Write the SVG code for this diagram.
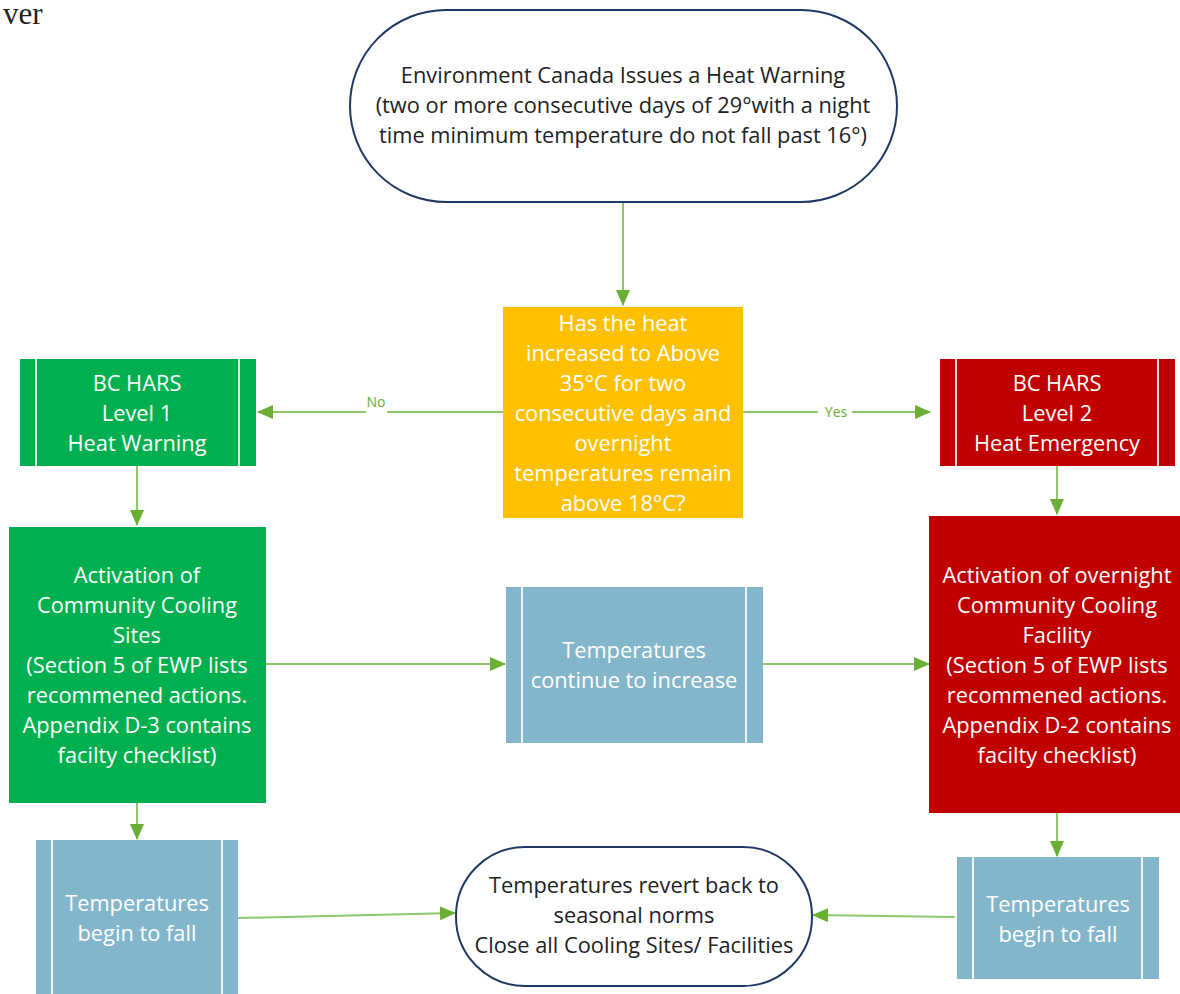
<svg xmlns="http://www.w3.org/2000/svg" width="1180" height="994" viewBox="0 0 1180 994">
<defs>
<marker id="ahb" markerWidth="16" markerHeight="14" refX="15" refY="7" orient="auto" markerUnits="userSpaceOnUse" viewBox="0 0 16 14">
<path d="M0,0 L16,7 L0,14 z" fill="#6AAE34"/>
</marker>
</defs>
<style>
.t{font-family:"Open Sans","Noto Sans","Liberation Sans",sans-serif;font-size:21.8px;text-anchor:middle}
.w{fill:#ffffff}
.k{fill:#222222}
.c{stroke:#8CC96A;stroke-width:2;fill:none}
.div{stroke:#ffffff;stroke-width:2;stroke-opacity:0.85}
.lbl{font-family:"Open Sans","Noto Sans","Liberation Sans",sans-serif;font-size:14px;fill:#6AAE34;text-anchor:middle}
</style>
<rect width="1180" height="994" fill="#ffffff"/>
<text x="3" y="24" font-family="Liberation Serif, serif" font-size="31" fill="#222">ver</text>

<g id="connectors">
<path class="c" d="M623,202 V305" marker-end="url(#ahb)"/>
<path class="c" d="M503,412 H387 M366,412 H258" marker-end="url(#ahb)"/>
<path class="c" d="M743,412 H818 M852,412 H930" marker-end="url(#ahb)"/>
<path class="c" d="M137,466 V525" marker-end="url(#ahb)"/>
<path class="c" d="M1057,466 V514" marker-end="url(#ahb)"/>
<path class="c" d="M266,664 H505" marker-end="url(#ahb)"/>
<path class="c" d="M763,664 H929" marker-end="url(#ahb)"/>
<path class="c" d="M137,803 V839" marker-end="url(#ahb)"/>
<path class="c" d="M1057,813 V856" marker-end="url(#ahb)"/>
<path class="c" d="M238,918 L455,913" marker-end="url(#ahb)"/>
<path class="c" d="M955,917 L813,915" marker-end="url(#ahb)"/>
<path d="M38,841 L54,848 L38,855 z" fill="#6AAE34"/>
<text class="lbl" x="376" y="407">No</text>
<text class="lbl" x="836" y="417">Yes</text>
</g>

<g id="start">
<rect x="350" y="10" width="547" height="192" rx="96" ry="96" fill="#ffffff" stroke="#1F3864" stroke-width="2"/>
<text class="t k" x="623" y="83">Environment Canada Issues a Heat Warning</text>
<text class="t k" x="623" y="113">(two or more consecutive days of 29°with a night</text>
<text class="t k" x="623" y="143">time minimum temperature do not fall past 16°)</text>
</g>

<g id="decision">
<rect x="503" y="307" width="240" height="211" fill="#FFC000"/>
<text class="t w" x="623" y="331">Has the heat</text>
<text class="t w" x="623" y="361">increased to Above</text>
<text class="t w" x="623" y="391">35°C for two</text>
<text class="t w" x="623" y="421">consecutive days and</text>
<text class="t w" x="623" y="451">overnight</text>
<text class="t w" x="623" y="481">temperatures remain</text>
<text class="t w" x="623" y="511">above 18°C?</text>
</g>

<g id="level1">
<rect x="20" y="359" width="236" height="107" fill="#00B050"/>
<line class="div" x1="36" y1="359" x2="36" y2="466"/>
<line class="div" x1="239" y1="359" x2="239" y2="466"/>
<text class="t w" x="137" y="391">BC HARS</text>
<text class="t w" x="137" y="421">Level 1</text>
<text class="t w" x="137" y="451">Heat Warning</text>
</g>

<g id="level2">
<rect x="940" y="359" width="235" height="107" fill="#C00000"/>
<line class="div" x1="956" y1="359" x2="956" y2="466"/>
<line class="div" x1="1158" y1="359" x2="1158" y2="466"/>
<text class="t w" x="1057" y="391">BC HARS</text>
<text class="t w" x="1057" y="421">Level 2</text>
<text class="t w" x="1057" y="451">Heat Emergency</text>
</g>

<g id="cooling-sites">
<rect x="9" y="527" width="257" height="276" fill="#00B050"/>
<text class="t w" x="137" y="583">Activation of</text>
<text class="t w" x="137" y="613">Community Cooling</text>
<text class="t w" x="137" y="643">Sites</text>
<text class="t w" x="137" y="673">(Section 5 of EWP lists</text>
<text class="t w" x="137" y="703">recommened actions.</text>
<text class="t w" x="137" y="733">Appendix D-3 contains</text>
<text class="t w" x="137" y="763">facilty checklist)</text>
</g>

<g id="cooling-facility">
<rect x="929" y="516" width="251" height="297" fill="#C00000"/>
<text class="t w" x="1057" y="583">Activation of overnight</text>
<text class="t w" x="1057" y="613">Community Cooling</text>
<text class="t w" x="1057" y="643">Facility</text>
<text class="t w" x="1057" y="673">(Section 5 of EWP lists</text>
<text class="t w" x="1057" y="703">recommened actions.</text>
<text class="t w" x="1057" y="733">Appendix D-2 contains</text>
<text class="t w" x="1057" y="763">facilty checklist)</text>
</g>

<g id="increase">
<rect x="506" y="587" width="257" height="156" fill="#84B6CB"/>
<line class="div" x1="522" y1="587" x2="522" y2="743"/>
<line class="div" x1="746" y1="587" x2="746" y2="743"/>
<text class="t w" x="634" y="658">Temperatures</text>
<text class="t w" x="634" y="688">continue to  increase</text>
</g>

<g id="fall-left">
<rect x="36" y="840" width="202" height="160" fill="#84B6CB"/>
<line class="div" x1="52" y1="840" x2="52" y2="1000"/>
<line class="div" x1="222" y1="840" x2="222" y2="1000"/>
<text class="t w" x="137" y="911">Temperatures</text>
<text class="t w" x="137" y="941">begin to fall</text>
</g>

<g id="fall-right">
<rect x="957" y="857" width="202" height="122" fill="#84B6CB"/>
<line class="div" x1="973" y1="857" x2="973" y2="979"/>
<line class="div" x1="1142" y1="857" x2="1142" y2="979"/>
<text class="t w" x="1058" y="912">Temperatures</text>
<text class="t w" x="1058" y="942">begin to fall</text>
</g>

<g id="end">
<rect x="456" y="847" width="356" height="139" rx="69" ry="69" fill="#ffffff" stroke="#1F3864" stroke-width="2"/>
<text class="t k" x="634" y="893">Temperatures revert back to</text>
<text class="t k" x="634" y="923">seasonal norms</text>
<text class="t k" x="634" y="953">Close all Cooling Sites/ Facilities</text>
</g>
</svg>
